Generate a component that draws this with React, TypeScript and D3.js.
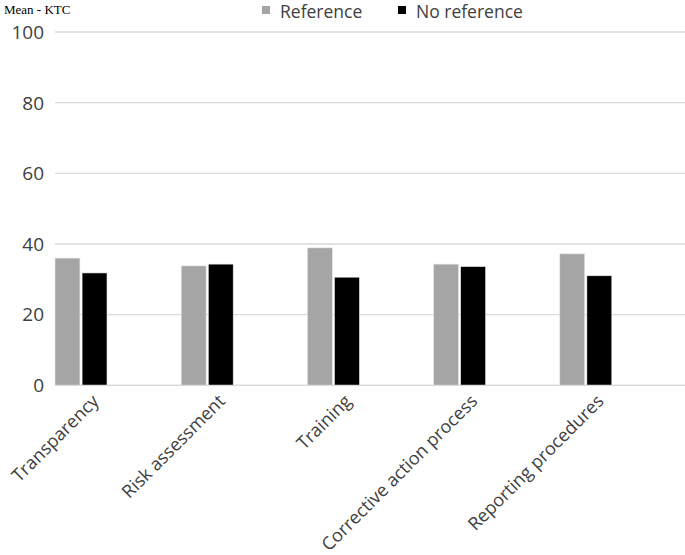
import React from "react";
import * as d3 from "d3";

const categories = ["Transparency", "Risk assessment", "Training", "Corrective action process", "Reporting procedures"];
const seriesNames = ["Reference", "No reference"];
const referenceValues = [36.0, 33.8, 38.9, 34.3, 37.2];
const noReferenceValues = [31.8, 34.3, 30.6, 33.6, 31.0];
const yTicks = [0, 20, 40, 60, 80, 100];
const colors = ["#a5a5a5", "#000000"];

const W = 685;
const H = 555;
const plotLeft = 55;
const plotRight = 686;
const plotTop = 32;
const plotBottom = 385.3;
const font = "'Open Sans', sans-serif";

export default function App() {
    const x0 = d3.scaleBand<string>().domain(categories).range([plotLeft, plotRight]).padding(0);
    const x1 = d3.scaleBand<string>().domain(seriesNames).range([0, 52]).paddingInner(0.08);
    const y = d3.scaleLinear().domain([0, 100]).range([plotBottom, plotTop]);
    const series = [referenceValues, noReferenceValues];

    return (
        <svg width={W} height={H} style={{ position: "absolute", left: 0, top: 0, background: "#fff" }}>
            {/* gridlines */}
            {yTicks.map((t) => (
                <g key={t}>
                    <line x1={plotLeft} x2={plotRight} y1={y(t)} y2={y(t)} stroke="#d9d9d9" strokeWidth={1.3} />
                    <text x={44} y={y(t)} dy="0.36em" textAnchor="end" fontFamily={font} fontSize={19} fill="#404040">
                        {t}
                    </text>
                </g>
            ))}

            {/* bars */}
            {series.map((vals, si) => (
                <g key={si}>
                    {vals.map((v, i) => (
                        <rect
                            key={i}
                            x={(x0(categories[i]) as number) + (x1(seriesNames[si]) as number)}
                            y={y(v)}
                            width={x1.bandwidth()}
                            height={y(0) - y(v)}
                            fill={colors[si]}
                            stroke="#e6e6e6"
                            strokeWidth={0.6}
                        />
                    ))}
                </g>
            ))}

            <line x1={plotLeft} x2={plotRight} y1={y(0)} y2={y(0)} stroke="#d9d9d9" strokeWidth={1.3} />

            {/* category labels */}
            {categories.map((c) => {
                const cx = (x0(c) as number) + 26 + 19;
                return (
                    <text
                        key={c}
                        transform={`translate(${cx},${plotBottom + 17}) rotate(-45)`}
                        textAnchor="end"
                        fontFamily={font}
                        fontSize={18}
                        fill="#404040"
                    >
                        {c}
                    </text>
                );
            })}

            {/* y title */}
            <text x={4} y={14} fontFamily="'Liberation Serif', 'Times New Roman', serif" fontSize={13} fill="#000">
                Mean - KTC
            </text>

            {/* legend */}
            {seriesNames.map((s, i) => {
                const lx = [262, 398][i];
                return (
                    <g key={s}>
                        <rect x={lx} y={6} width={8} height={8} fill={colors[i]} />
                        <text x={lx + 18} y={18} fontFamily={font} fontSize={17.5} fill="#404040">
                            {s}
                        </text>
                    </g>
                );
            })}
        </svg>
    );
}
